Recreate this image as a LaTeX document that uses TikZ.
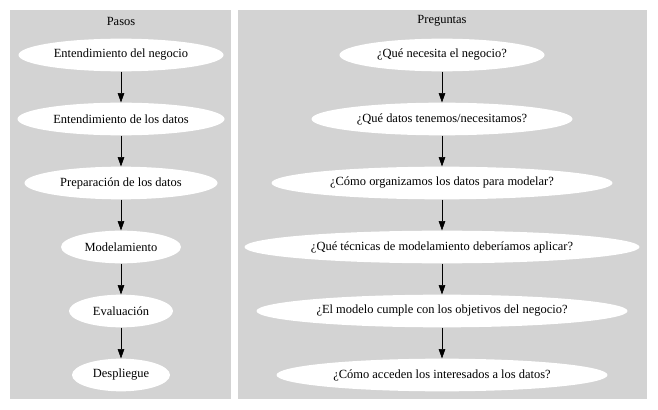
\documentclass[tikz,border=0pt]{standalone}
\usepackage{fontspec}
\setmainfont{Liberation Serif}
\usetikzlibrary{shapes.geometric,arrows.meta}
\definecolor{gris}{HTML}{D3D3D3}
\begin{document}
\begin{tikzpicture}[x=0.75pt,y=-0.75pt,
  paso/.style={draw=none, fill=white, ellipse, inner sep=0pt, minimum height=24.5pt, minimum width=#1*0.75pt, font=\fontsize{9.35}{11}\selectfont},
  flecha/.style={draw, -{Triangle[length=7pt,width=5pt]}},
  titulo/.style={font=\fontsize{9.35}{11}\selectfont}]
\useasboundingbox (0,0) rectangle (658,410);
\fill[gris] (10,10) rectangle (231,399);
\fill[gris] (238,10) rectangle (647,399);
\node[titulo] (t1) at (121,21) {Pasos};
\node[titulo] (t2) at (442,21) {Preguntas};
\node[paso=205] (p1) at (121,55) {Entendimiento del negocio};
\node[paso=207] (p2) at (121,119) {Entendimiento de los datos};
\node[paso=193] (p3) at (121,183) {Preparación de los datos};
\node[paso=120] (p4) at (121,247) {Modelamiento};
\node[paso=104] (p5) at (121,311) {Evaluación};
\node[paso=98] (p6) at (121,375) {Despliegue};
\node[paso=205] (q1) at (442,55) {¿Qué necesita el negocio?};
\node[paso=261] (q2) at (442,119) {¿Qué datos tenemos/necesitamos?};
\node[paso=341] (q3) at (442,183) {¿Cómo organizamos los datos para modelar?};
\node[paso=395] (q4) at (442,247) {¿Qué técnicas de modelamiento deberíamos aplicar?};
\node[paso=371] (q5) at (442,311) {¿El modelo cumple con los objetivos del negocio?};
\node[paso=331] (q6) at (442,375) {¿Cómo acceden los interesados a los datos?};
\path[flecha] (p1) -- (p2);
\path[flecha] (p2) -- (p3);
\path[flecha] (p3) -- (p4);
\path[flecha] (p4) -- (p5);
\path[flecha] (p5) -- (p6);
\path[flecha] (q1) -- (q2);
\path[flecha] (q2) -- (q3);
\path[flecha] (q3) -- (q4);
\path[flecha] (q4) -- (q5);
\path[flecha] (q5) -- (q6);
\end{tikzpicture}
\end{document}
